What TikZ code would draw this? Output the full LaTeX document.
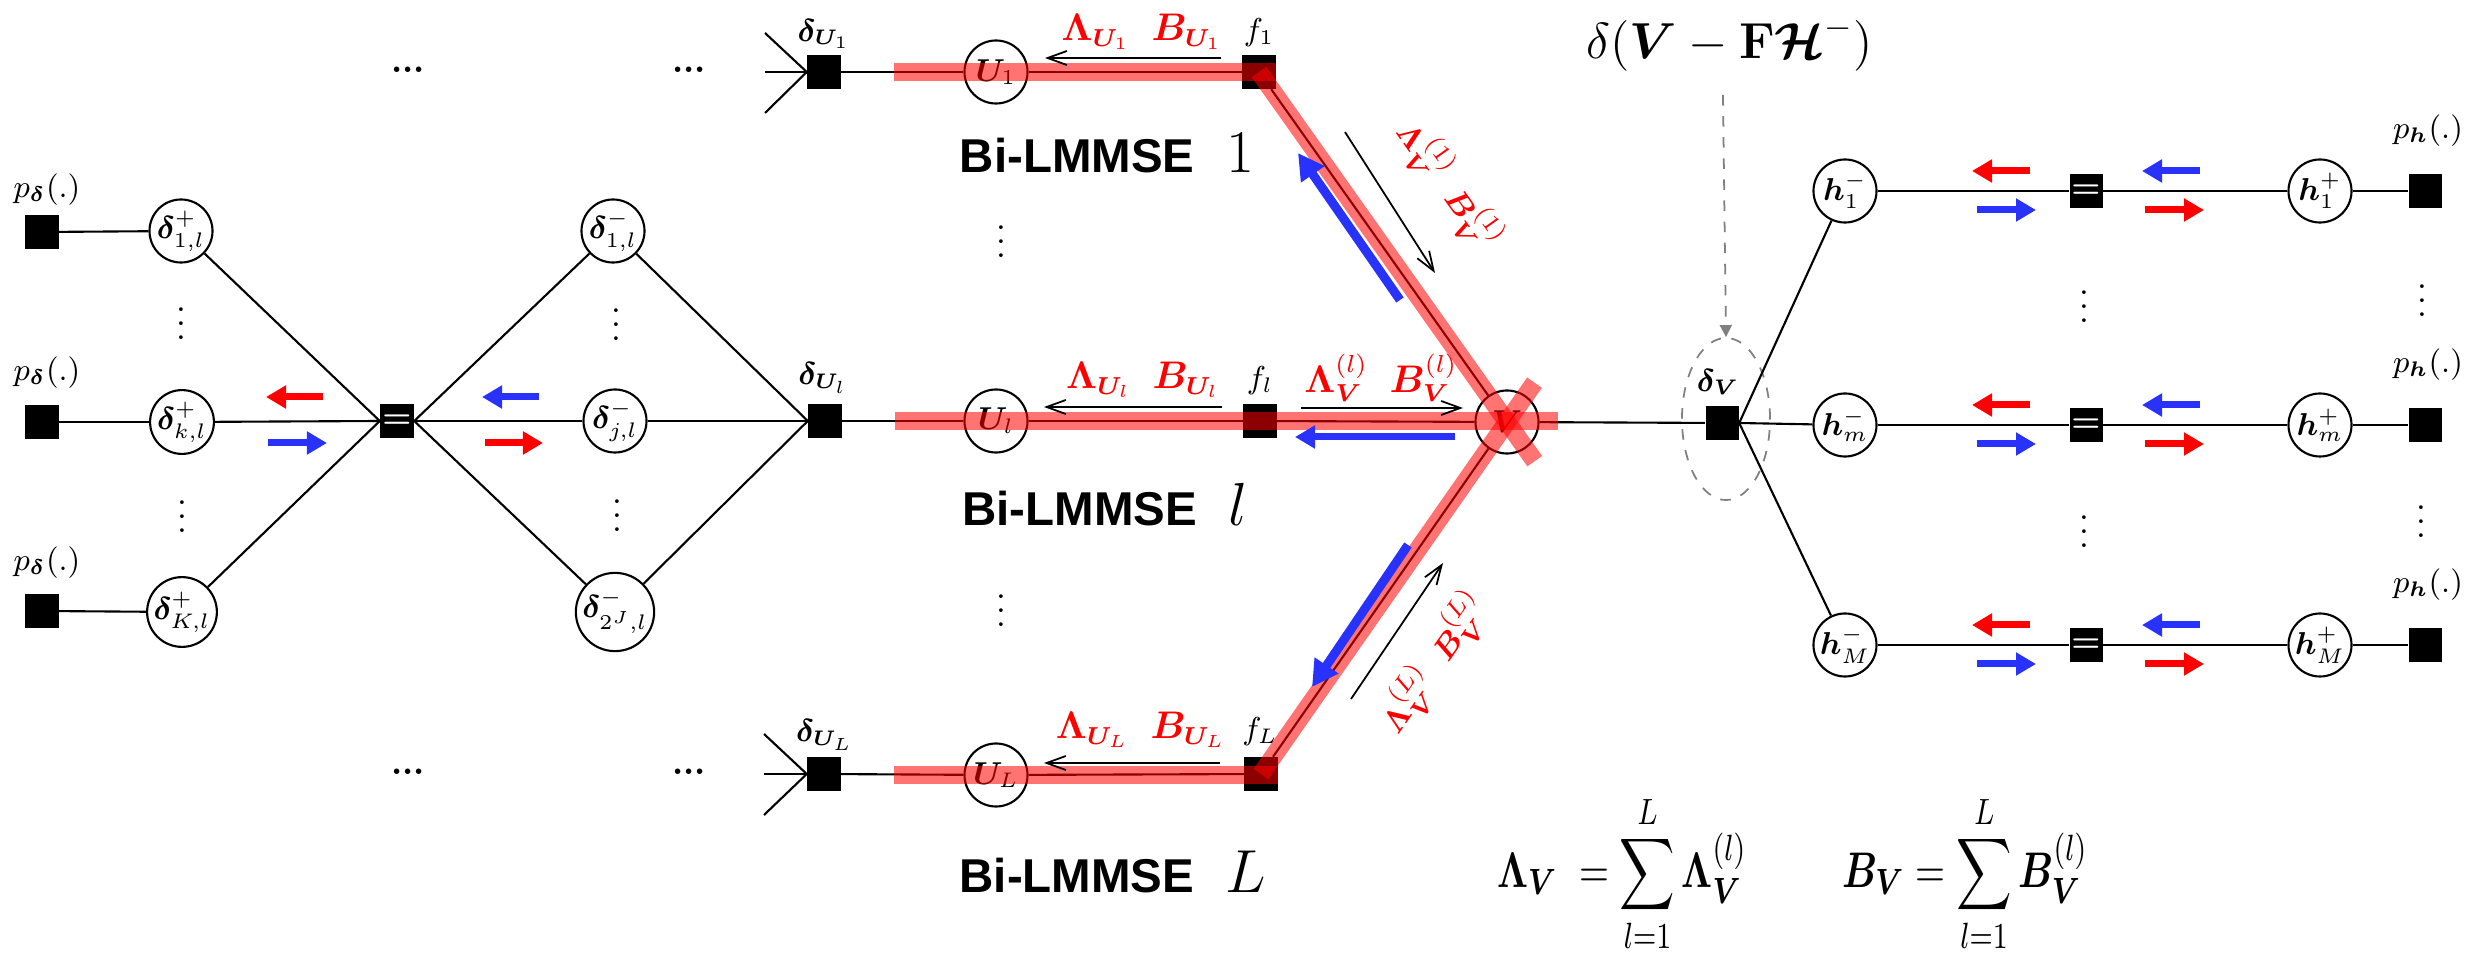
\documentclass[tikz,border=0pt]{standalone}
\usepackage{amsmath}
\usepackage{bm}
\usepackage[no-math]{fontspec}
\newfontfamily\arialfont{Liberation Sans}
\usetikzlibrary{arrows.meta,calc,shapes.geometric}
\definecolor{myblue}{RGB}{40,50,250}
\definecolor{myred}{RGB}{255,0,0}
\begin{document}
\begin{tikzpicture}[x=0.01cm,y=-0.01cm,
  circ/.style={circle,draw,line width=0.6pt,minimum size=0.63cm,inner sep=0pt,fill=white,font=\fontsize{9}{9}\selectfont},
  sq/.style={rectangle,fill=black,minimum size=0.33cm,inner sep=0pt},
  eqsq/.style={sq,text=white,font=\bfseries\fontsize{9}{9}\selectfont},
  ln/.style={line width=0.6pt},
  band/.style={line width=0.18cm,myred,opacity=0.55},
  fatarrow/.style={line width=0.07cm,-{Triangle[length=0.2cm,width=0.22cm]}},
  bigarrow/.style={line width=0.09cm,-{Triangle[length=0.26cm,width=0.27cm]}},
  barb/.style={line width=0.5pt,-{Straight Barb[length=5.5pt,width=4pt]}},
  lbl/.style={font=\fontsize{9}{9}\selectfont,inner sep=0pt},
  rlbl/.style={font=\fontsize{10.5}{10.5}\selectfont,text=myred,inner sep=1pt},
  slbl/.style={font=\fontsize{9.5}{9.5}\selectfont,text=myred,inner sep=1pt},
  dotsn/.style={font=\fontsize{10}{10}\selectfont,inner sep=0pt},
  hdots/.style={font=\bfseries\fontsize{10}{10}\selectfont,inner sep=0pt},
  frm/.style={font=\fontsize{11}{11}\selectfont,inner sep=0pt},
  bilm/.style={inner sep=0pt}
]
\useasboundingbox (0,0) rectangle (2471,958);

% ---------------- left part ----------------
\node[sq] (P1) at (42,232) {};
\node[sq] (P2) at (42,422) {};
\node[sq] (P3) at (42,611) {};
\node[lbl] (pl1) at (47,190) {$p_{\bm{\delta}}(.)$};
\node[lbl] (pl2) at (47,373) {$p_{\bm{\delta}}(.)$};
\node[lbl] (pl3) at (47,563) {$p_{\bm{\delta}}(.)$};
\node[circ] (Dp1) at (181,231) {$\bm{\delta}^{+}_{1,l}$};
\node[circ] (Dpk) at (182,422) {$\bm{\delta}^{+}_{k,l}$};
\node[circ] (DpK) at (182,612) {$\bm{\delta}^{+}_{K,l}$};
\node[dotsn] (vdl1) at (181,313) {$\vdots$};
\node[dotsn] (vdl2) at (182,506) {$\vdots$};
\node[eqsq] (EqL) at (397,421) {=};
\node[circ] (Dm1) at (613,231) {$\bm{\delta}^{-}_{1,l}$};
\node[circ] (Dmj) at (615,421) {$\bm{\delta}^{-}_{j,l}$};
\node[circ] (DmJ) at (615,612) {$\bm{\delta}^{-}_{2^J,l}$};
\node[dotsn] (vdl3) at (616,314) {$\vdots$};
\node[dotsn] (vdl4) at (617,505) {$\vdots$};

\draw[ln] (P1) -- (Dp1);
\draw[ln] (P2) -- (Dpk);
\draw[ln] (P3) -- (DpK);
\draw[ln] (Dp1) -- (EqL.west);
\draw[ln] (Dpk) -- (EqL.west);
\draw[ln] (DpK) -- (EqL.west);
\draw[ln] (EqL.east) -- (Dm1);
\draw[ln] (EqL.east) -- (Dmj);
\draw[ln] (EqL.east) -- (DmJ);

\coordinate (lra1) at (323,397); \coordinate (lra2) at (266,397);
\coordinate (lba1) at (268,443); \coordinate (lba2) at (327,443);
\coordinate (lbb1) at (539,397); \coordinate (lbb2) at (482,397);
\coordinate (lrb1) at (485,443); \coordinate (lrb2) at (543,443);
\draw[fatarrow,myred] (lra1) -- (lra2);
\draw[fatarrow,myblue] (lba1) -- (lba2);
\draw[fatarrow,myblue] (lbb1) -- (lbb2);
\draw[fatarrow,myred] (lrb1) -- (lrb2);

% ---------------- Bi-LMMSE rows ----------------
% top row
\node[hdots] (hd1) at (408,70) {...};
\node[hdots] (hd2) at (689,70) {...};
\node[sq] (DU1) at (824,72) {};
\node[lbl] (lDU1) at (824,34) {$\bm{\delta}_{\bm{U}_1}$};
\coordinate (c1a) at (765,33); \coordinate (c1b) at (765,72); \coordinate (c1c) at (765,113);
\draw[ln] (c1a) -- (DU1.west);
\draw[ln] (c1b) -- (DU1.west);
\draw[ln] (c1c) -- (DU1.west);
\node[circ] (U1) at (996,72) {$\bm{U}_1$};
\node[sq] (F1) at (1259,72) {};
\node[lbl] (lF1) at (1259,33) {$f_1$};
\node[rlbl] (rU1) at (1142,32) {$\bm{\Lambda}_{\bm{U}_1}\;\;\bm{B}_{\bm{U}_1}$};
\coordinate (ta1) at (1221,58); \coordinate (ta2) at (1045,58);
\node[bilm] (bi1) at (1107,153) {{\arialfont\bfseries\fontsize{13.5}{14}\selectfont Bi-LMMSE}\hspace{9pt}{\fontsize{17}{17}\selectfont$1$}};
\node[dotsn] (vdm1) at (1001,231) {$\vdots$};

% middle row
\node[sq] (DUl) at (825,421) {};
\node[lbl] (lDUl) at (823,378) {$\bm{\delta}_{\bm{U}_l}$};
\node[circ] (Ul) at (996,421) {$\bm{U}_l$};
\node[sq] (Fl) at (1260,421) {};
\node[lbl] (lFl) at (1260,381) {$f_l$};
\node[rlbl] (rUl) at (1143,380) {$\bm{\Lambda}_{\bm{U}_l}\;\;\bm{B}_{\bm{U}_l}$};
\node[circ] (V) at (1507,422) {$\bm{V}$};
\node[rlbl] (rVl) at (1381,378) {$\bm{\Lambda}_{\bm{V}}^{(l)}\;\;\bm{B}_{\bm{V}}^{(l)}$};
\node[bilm] (bil) at (1105,505) {{\arialfont\bfseries\fontsize{13.5}{14}\selectfont Bi-LMMSE}\hspace{9pt}{\fontsize{17}{17}\selectfont$l$}};
\node[dotsn] (vdm2) at (1001,600) {$\vdots$};

% bottom row
\node[hdots] (hd3) at (408,772) {...};
\node[hdots] (hd4) at (689,772) {...};
\node[sq] (DUL) at (824,774) {};
\node[lbl] (lDUL) at (825,735) {$\bm{\delta}_{\bm{U}_L}$};
\coordinate (c3a) at (764,734); \coordinate (c3b) at (764,774); \coordinate (c3c) at (764,815);
\draw[ln] (c3a) -- (DUL.west);
\draw[ln] (c3b) -- (DUL.west);
\draw[ln] (c3c) -- (DUL.west);
\node[circ] (UL) at (996,775) {$\bm{U}_L$};
\node[sq] (FL) at (1261,774) {};
\node[lbl] (lFL) at (1260,732) {$f_L$};
\node[rlbl] (rUL) at (1141,730) {$\bm{\Lambda}_{\bm{U}_L}\;\;\bm{B}_{\bm{U}_L}$};
\node[bilm] (biL) at (1113,872) {{\arialfont\bfseries\fontsize{13.5}{14}\selectfont Bi-LMMSE}\hspace{9pt}{\fontsize{17}{17}\selectfont$L$}};

% ---------------- right part ----------------
\node[sq] (DV) at (1722,423) {};
\node[lbl] (lDV) at (1718,382) {$\bm{\delta}_{\bm{V}}$};
\node[ellipse,draw=gray,dashed,line width=0.5pt,minimum width=0.88cm,minimum height=1.62cm,inner sep=0pt] (dvell) at (1726,419) {};
\node[font=\fontsize{14}{14}\selectfont,inner sep=0pt] (dfl) at (1730,44) {$\delta(\bm{V}-\mathbf{F}\bm{\mathcal{H}}^{-})$};
\coordinate (dtop) at (1723,95);
\draw[gray,dashed,line width=0.5pt,-{Triangle[length=0.12cm,width=0.12cm]}] (dtop) -- (dvell.north);

\foreach \yy/\n in {191/1,425/m,645/M}{
  \node[circ] (hm\n) at (1845,\yy) {$\bm{h}^{-}_{\n}$};
  \node[eqsq] (eq\n) at (2086,\yy) {=};
  \node[circ] (hp\n) at (2320,\yy) {$\bm{h}^{+}_{\n}$};
  \node[sq] (ph\n) at (2425,\yy) {};
  \node[lbl] (lph\n) at (2428,\yy-60) {$p_{\bm{h}}(.)$};
  \draw[ln] (DV.east) -- (hm\n);
  \draw[ln] (hm\n) -- (eq\n);
  \draw[ln] (eq\n) -- (hp\n);
  \draw[ln] (hp\n) -- (ph\n);
  \coordinate (ra\n1) at (2030,\yy-20); \coordinate (ra\n2) at (1972,\yy-20);
  \coordinate (ba\n1) at (1977,\yy+19); \coordinate (ba\n2) at (2036,\yy+19);
  \coordinate (bb\n1) at (2200,\yy-20); \coordinate (bb\n2) at (2142,\yy-20);
  \coordinate (rb\n1) at (2145,\yy+19); \coordinate (rb\n2) at (2204,\yy+19);
  \draw[fatarrow,myred] (ra\n1) -- (ra\n2);
  \draw[fatarrow,myblue] (ba\n1) -- (ba\n2);
  \draw[fatarrow,myblue] (bb\n1) -- (bb\n2);
  \draw[fatarrow,myred] (rb\n1) -- (rb\n2);
}
\node[dotsn] (rvd1) at (2084,296) {$\vdots$};
\node[dotsn] (rvd2) at (2422,290) {$\vdots$};
\node[dotsn] (rvd3) at (2084,521) {$\vdots$};
\node[dotsn] (rvd4) at (2421,511) {$\vdots$};

% formulas
\begin{scope}[shift={(1622,874)},yscale=1.3]
\node[frm,transform shape] (fLam) at (0,0) {$\displaystyle \bm{\Lambda}_{\bm{V}}\;=\sum_{l=1}^{L}\bm{\Lambda}_{\bm{V}}^{(l)}$};
\end{scope}
\begin{scope}[shift={(1965,874)},yscale=1.3]
\node[frm,transform shape] (fB) at (0,0) {$\displaystyle \bm{B}_{\bm{V}}=\sum_{l=1}^{L}\bm{B}_{\bm{V}}^{(l)}$};
\end{scope}

% ---------------- connectors in the middle ----------------
\draw[ln] (DU1) -- (U1); \draw[ln] (U1) -- (F1); \draw[ln] (F1) -- (V);
\draw[ln] (Dm1) -- (DUl.west); \draw[ln] (Dmj) -- (DUl.west); \draw[ln] (DmJ) -- (DUl.west);
\draw[ln] (DUl) -- (Ul); \draw[ln] (Ul) -- (Fl); \draw[ln] (Fl) -- (V); \draw[ln] (V) -- (DV);
\draw[ln] (DUL) -- (UL); \draw[ln] (UL) -- (FL); \draw[ln] (FL) -- (V);

% red bands
\coordinate (b1s) at (894,72); \coordinate (b1e) at (1276,72);
\coordinate (b2s) at (895,421); \coordinate (b2e) at (1558,421);
\coordinate (b3s) at (894,775); \coordinate (b3e) at (1278,775);
\draw[band] (b1s) -- (b1e);
\draw[band] (b2s) -- (b2e);
\draw[band] (b3s) -- (b3e);
\draw[band] (F1.center) -- ($(V.center)!-0.48cm!(F1.center)$);
\draw[band] (FL.center) -- ($(V.center)!-0.48cm!(FL.center)$);

% thin black arrows
\draw[barb] (ta1) -- (ta2);
\coordinate (ma1) at (1222,407); \coordinate (ma2) at (1044,407);
\draw[barb] (ma1) -- (ma2);
\coordinate (ba1) at (1220,763); \coordinate (ba2) at (1044,763);
\draw[barb] (ba1) -- (ba2);
\coordinate (va1) at (1301,408); \coordinate (va2) at (1463,408);
\draw[barb] (va1) -- (va2);
\coordinate (da1) at (1345,132); \coordinate (da2) at (1435,273);
\draw[barb] (da1) -- (da2);
\coordinate (db1) at (1351,699); \coordinate (db2) at (1443,563);
\draw[barb] (db1) -- (db2);

% blue arrows middle
\coordinate (mb1) at (1455,437); \coordinate (mb2) at (1295,437);
\draw[fatarrow,myblue] (mb1) -- (mb2);
\coordinate (tb1) at (1400,300); \coordinate (tb2) at (1298,153);
\draw[bigarrow,myblue] (tb1) -- (tb2);
\coordinate (bb1) at (1408,545); \coordinate (bb2) at (1312,687);
\draw[bigarrow,myblue] (bb1) -- (bb2);

% sloped labels
\node[slbl,rotate=-54.6] (rV1) at (1449,186) {$\bm{\Lambda}_{\bm{V}}^{(1)}\;\;\bm{B}_{\bm{V}}^{(1)}$};
\node[slbl,rotate=55.2] (rVL) at (1434,663) {$\bm{\Lambda}_{\bm{V}}^{(L)}\;\;\bm{B}_{\bm{V}}^{(L)}$};
\end{tikzpicture}
\end{document}
